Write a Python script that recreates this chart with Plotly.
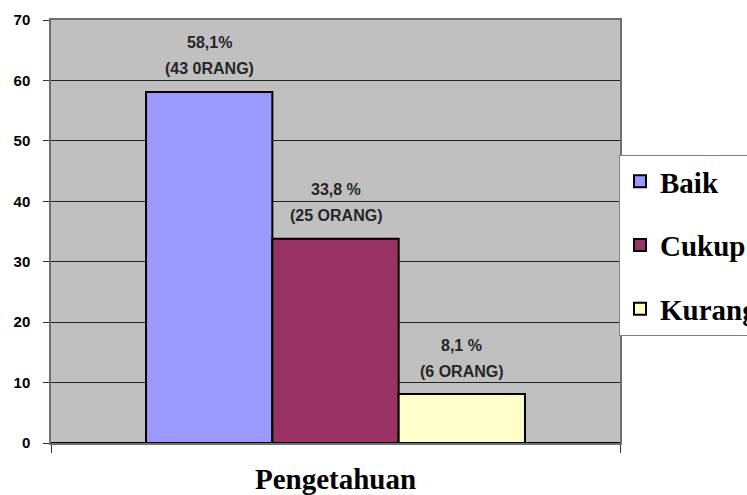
import plotly.graph_objects as go

category = ["Pengetahuan"]
series_names = ["Baik", "Cukup", "Kurang"]
values = [58.1, 33.8, 8.1]
pct_labels = ["58,1%", "33,8 %", "8,1 %"]
count_labels = ["(43 0RANG)", "(25 ORANG)", "(6 ORANG)"]
colors = ["#9999ff", "#993366", "#ffffcc"]
y_ticks = [0, 10, 20, 30, 40, 50, 60, 70]

W, H = 800, 495
L, R, T, B = 51, 620, 20, 443

bargap = 0.334
n = len(values)
bw = (1 - bargap) / n

fig = go.Figure()
for i, (name, v, c) in enumerate(zip(series_names, values, colors)):
    fig.add_trace(go.Bar(
        x=category, y=[v], name=name,
        marker=dict(color=c, line=dict(color="black", width=2)),
        legendgroup=name,
    ))

annos = []
for i, v in enumerate(values):
    xc = -(1 - bargap) / 2 + bw * (i + 0.5)
    for txt, shift in ((pct_labels[i], 49), (count_labels[i], 23)):
        annos.append(dict(
            x=xc, y=v, xref="x", yref="y", text=txt, showarrow=False,
            yanchor="middle", xanchor="center", yshift=shift,
            font=dict(family="Liberation Sans", size=16, color="#262626", weight="bold"),
        ))

fig.update_layout(
    width=W, height=H,
    margin=dict(l=L, r=W - R, t=T, b=H - B, autoexpand=False),
    paper_bgcolor="white",
    plot_bgcolor="#c0c0c0",
    barmode="group", bargap=bargap, bargroupgap=0,
    annotations=annos,
    showlegend=True,
    legend=dict(
        x=(619 - L) / (R - L), xref="paper", xanchor="left",
        y=1 - (155 - T) / (B - T), yanchor="top",
        bgcolor="white", bordercolor="#808080", borderwidth=1,
        font=dict(family="Liberation Serif", size=29, color="black", weight="bold"),
        traceorder="grouped", tracegroupgap=23,
        itemclick=False,
    ),
)

fig.update_xaxes(
    type="category",
    range=[-0.5, 0.5],
    showline=True, linecolor="#707070", linewidth=1.5, mirror=True,
    ticks="outside", tickson="boundaries", ticklen=8, tickcolor="#333",
    tickfont=dict(family="Liberation Serif", size=29, color="black", weight="bold"),
    ticklabelstandoff=9,
    showgrid=False,
)
fig.update_yaxes(
    range=[0, 70], tickvals=y_ticks,
    showline=True, linecolor="#707070", linewidth=1.5, mirror=True,
    ticks="outside", ticklen=6, tickcolor="#333",
    tickfont=dict(family="Liberation Sans", size=15, color="black", weight="bold"),
    ticklabelstandoff=10,
    showgrid=True, gridcolor="#222", gridwidth=1,
    zeroline=True, zerolinecolor="black", zerolinewidth=1.5,
)

fig.write_html(
    "out.html",
    post_script="document.documentElement.style.overflow='hidden';document.body.style.overflow='hidden';",
)
